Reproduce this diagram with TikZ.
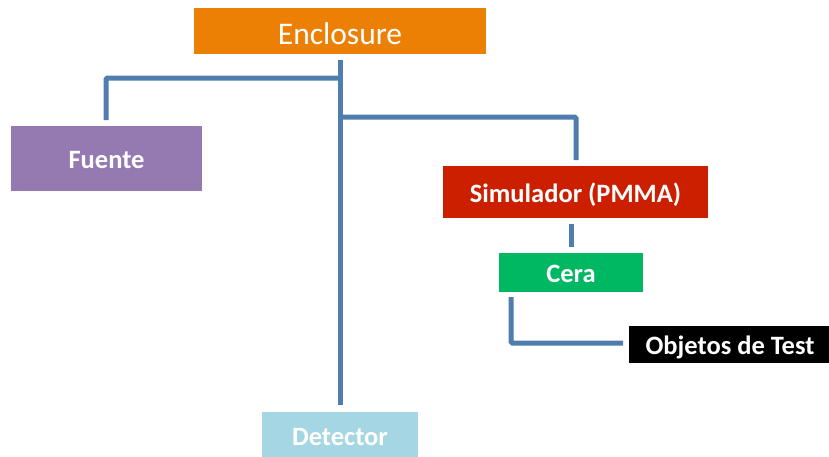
\documentclass[tikz,border=0pt]{standalone}
\usepackage{fontspec}
\setmainfont{Carlito}
\definecolor{linkblue}{HTML}{4F7DAE}
\definecolor{orangebox}{HTML}{EC8005}
\definecolor{purplebox}{HTML}{947AB0}
\definecolor{redbox}{HTML}{CC1F00}
\definecolor{greenbox}{HTML}{00B862}
\definecolor{cyanbox}{HTML}{A5D6E4}
\tikzset{
  box/.style={rectangle, inner sep=0pt, text=white, text height=20.5pt, text depth=0pt,
              font=\fontsize{26.5}{28}\selectfont\bfseries},
  link/.style={draw=linkblue, line width=5pt, line cap=butt, rounded corners=1.5pt},
}
\begin{document}
\begin{tikzpicture}[x=1pt, y=-1pt]
\useasboundingbox (0,0) rectangle (829,456);
% boxes (coordinates measured from the top-left corner)
\node[box, fill=orangebox, minimum width=292pt, minimum height=46pt, text height=27pt,
      font=\fontsize{31.5}{33}\selectfont] (encl) at (340,31) {Enclosure};
\node[box, fill=purplebox, minimum width=191pt, minimum height=65pt] (fuente) at (106.5,158.5) {Fuente};
\node[box, fill=redbox, minimum width=265pt, minimum height=52pt] (sim) at (575.5,192) {Simulador (PMMA)};
\node[box, fill=greenbox, minimum width=144pt, minimum height=39pt] (cera) at (571,272.5) {Cera};
\node[box, fill=black, minimum width=202pt, minimum height=37pt] (obj) at (730,344.5) {Objetos de Test};
\node[box, fill=cyanbox, minimum width=156pt, minimum height=46pt] (det) at (340,435) {Detector};
% connector end points
\coordinate (trunkTop) at (340,60);
\coordinate (trunkBot) at (340,405);
\coordinate (fuenteTop) at (106,120);
\coordinate (simTop) at (576,160);
\coordinate (ceraTop) at (571,247);
\coordinate (simBot) at (571,224);
\coordinate (ceraBot) at (511,297);
\coordinate (objLeft) at (623,343);
% connectors
\draw[link] (trunkTop) -- (trunkBot);
\draw[link] (trunkTop |- 0,78) -- (fuenteTop |- 0,78) -- (fuenteTop);
\draw[link] (trunkTop |- 0,117) -- (simTop |- 0,117) -- (simTop);
\draw[link] (simBot) -- (ceraTop);
\draw[link] (ceraBot) -- (ceraBot |- objLeft) -- (objLeft);
\end{tikzpicture}
\end{document}
